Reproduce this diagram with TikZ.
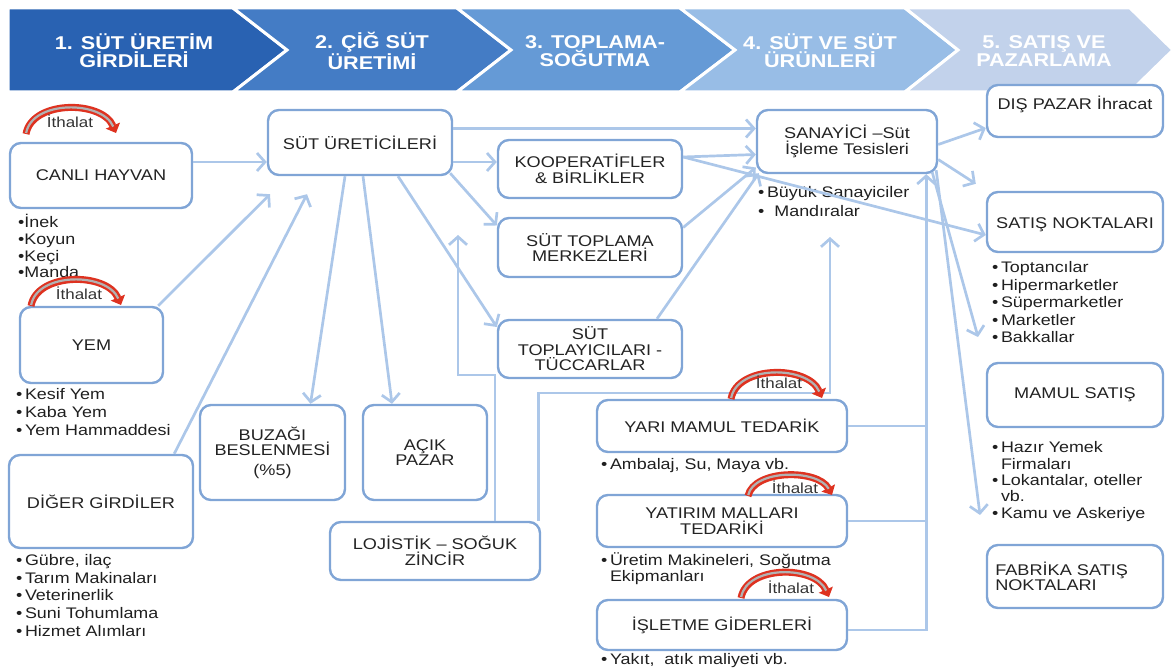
\documentclass[tikz,border=0pt]{standalone}
\usepackage{fontspec}
\setmainfont{Liberation Sans}[FakeStretch=1.17]
\usetikzlibrary{arrows.meta}

\definecolor{hdone}{RGB}{41,98,178}
\definecolor{hdtwo}{RGB}{68,124,197}
\definecolor{hdthree}{RGB}{101,154,214}
\definecolor{hdfour}{RGB}{152,189,230}
\definecolor{hdfive}{RGB}{194,210,235}
\definecolor{boxline}{RGB}{128,165,214}
\definecolor{flowline}{RGB}{172,199,233}
\definecolor{impred}{RGB}{222,50,32}
\definecolor{textgray}{RGB}{35,35,35}

\tikzset{
  box/.style={draw=boxline, line width=2.4pt, rounded corners=11pt, fill=white,
    align=center, inner sep=0pt, text=textgray, font=\fontsize{15.5}{15.5}\selectfont},
  head/.style={text=white, align=center, font=\bfseries\fontsize{18.5}{18}\selectfont},
  items/.style={anchor=base west, align=left, inner sep=0pt, text=black!88,
    font=\fontsize{15.3}{17.6}\selectfont},
  flow/.style={draw=flowline, line width=2.7pt, -{Straight Barb[length=8pt,width=18pt]}},
  link/.style={draw=flowline, line width=2.7pt},
  chev/.style={draw=white, line width=3pt},
  imp/.style={draw=impred, line width=7pt, -{Triangle[length=8pt,width=15pt]}},
  impin/.style={draw=black!30, line width=2.2pt, shorten >=7pt, shorten <=1pt},
  imptext/.style={font=\fontsize{14.5}{14}\selectfont, text=black!80, inner sep=0pt}
}

\begin{document}
\begin{tikzpicture}[x=1pt,y=-1pt]
  \useasboundingbox (0,0) rectangle (1173,668);

  % banner
  \filldraw[chev, fill=hdone] (8,8) -- (233,8) -- (287,50) -- (233,92) -- (8,92) -- cycle;
  \filldraw[chev, fill=hdtwo] (233,8) -- (457,8) -- (511,50) -- (457,92) -- (233,92) -- (287,50) -- cycle;
  \filldraw[chev, fill=hdthree] (457,8) -- (680,8) -- (735,50) -- (680,92) -- (457,92) -- (511,50) -- cycle;
  \filldraw[chev, fill=hdfour] (680,8) -- (905,8) -- (958,50) -- (905,92) -- (680,92) -- (735,50) -- cycle;
  \filldraw[chev, fill=hdfive] (905,8) -- (1130,8) -- (1173,50) -- (1130,92) -- (905,92) -- (958,50) -- cycle;
  \node[head] (h1) at (134,51) {1. SÜT ÜRETİM\\GİRDİLERİ};
  \node[head] (h2) at (372,51) {2. ÇİĞ SÜT\\ÜRETİMİ};
  \node[head] (h3) at (595,51) {3. TOPLAMA-\\SOĞUTMA};
  \node[head] (h4) at (820,51) {4. SÜT VE SÜT\\ÜRÜNLERİ};
  \node[head] (h5) at (1044,51) {5. SATIŞ VE\\PAZARLAMA};

  % inputs
  \node[box, minimum width=182pt, minimum height=65pt] (canli) at (101,175.5) {CANLI HAYVAN};
  \node[box, minimum width=143pt, minimum height=76pt] (yem) at (91.5,345) {YEM};
  \node[box, minimum width=184pt, minimum height=93pt] (diger) at (101,501.5) {DİĞER GİRDİLER};
  \node[items, font=\fontsize{15.3}{16.7}\selectfont] (canlilist) at (18,278) {•İnek\\•Koyun\\•Keçi\\•Manda};
  \node[items] (yemlist) at (16,435) {•\,Kesif Yem\\•\,Kaba Yem\\•\,Yem Hammaddesi};
  \node[items] (digerlist) at (16,636) {•\,Gübre, ilaç\\•\,Tarım Makinaları\\•\,Veterinerlik\\•\,Suni Tohumlama\\•\,Hizmet Alımları};

  % raw milk
  \node[box, minimum width=184pt, minimum height=65pt] (uretici) at (360,142.5) {SÜT ÜRETİCİLERİ};
  \node[box, minimum width=145pt, minimum height=95pt] (buzagi) at (272.5,452.5) {BUZAĞI\\BESLENMESİ\\[4pt](\%5)};
  \node[box, minimum width=124pt, minimum height=95pt] (acik) at (425,452.5) {AÇIK\\PAZAR};
  \node[box, minimum width=210pt, minimum height=58pt] (lojistik) at (435,551) {LOJİSTİK – SOĞUK\\ZİNCİR};

  % collection
  \node[box, minimum width=184pt, minimum height=58pt] (koop) at (590,169) {KOOPERATİFLER\\\& BİRLİKLER};
  \node[box, minimum width=184pt, minimum height=59pt] (merkez) at (590,247.5) {SÜT TOPLAMA\\MERKEZLERİ};
  \node[box, minimum width=184pt, minimum height=58pt] (toplayici) at (590,349) {SÜT\\TOPLAYICILARI -\\TÜCCARLAR};

  % industry
  \node[box, minimum width=180pt, minimum height=63pt] (sanayici) at (847,141.5) {SANAYİCİ –Süt\\İşleme Tesisleri};
  \node[items, font=\fontsize{15.3}{19}\selectfont] (sanlist) at (758,217) {•\,Büyük Sanayiciler\\•\ \ Mandıralar};
  \node[box, minimum width=250pt, minimum height=52pt] (yari) at (722,426) {YARI MAMUL TEDARİK};
  \node[box, minimum width=250pt, minimum height=52pt] (yatirim) at (722,521) {YATIRIM MALLARI\\TEDARİKİ};
  \node[box, minimum width=250pt, minimum height=50pt] (isletme) at (722,625) {İŞLETME GİDERLERİ};
  \node[items] (yarilist) at (601,469) {•\,Ambalaj, Su, Maya vb.};
  \node[items, font=\fontsize{15.3}{16}\selectfont] (yatlist) at (601,581) {•\,Üretim Makineleri, Soğutma\\\phantom{•\,}Ekipmanları};
  \node[items] (islist) at (601,664) {•\,Yakıt,\ \ atık maliyeti vb.};

  % sales
  \node[box, minimum width=176pt, minimum height=52pt] (dispazar) at (1075,111) {\raisebox{7pt}[\height][\depth]{DIŞ PAZAR İhracat}};
  \node[box, minimum width=176pt, minimum height=60pt] (satis) at (1075,222) {\raisebox{-3pt}[\height][\depth]{SATIŞ NOKTALARI}};
  \node[box, minimum width=176pt, minimum height=64pt] (mamul) at (1075,395) {MAMUL SATIŞ};
  \node[box, minimum width=176pt, minimum height=63pt, align=left] (fabrika) at (1075,576.5) {FABRİKA SATIŞ\\NOKTALARI\hspace*{58pt}};
  \node[items] (satislist) at (992,343) {•\,Toptancılar\\•\,Hipermarketler\\•\,Süpermarketler\\•\,Marketler\\•\,Bakkallar};
  \node[items, font=\fontsize{15.3}{16.3}\selectfont] (mamullist) at (992,518) {•\,Hazır Yemek\\\phantom{•\,}Firmaları\\•\,Lokantalar, oteller\\\phantom{•\,}vb.\\•\,Kamu ve Askeriye};

  % flows
  \draw[flow] ([yshift=13.5pt]canli.east) -- ([yshift=-19.5pt]uretici.west);
  \draw[flow] ([xshift=-6pt]yem.north east) -- ([xshift=-90pt,yshift=-18pt]uretici.south);
  \draw[flow] ([xshift=-20pt]diger.north east) -- ([xshift=-53pt,yshift=-18pt]uretici.south);
  \draw[flow] ([xshift=-15pt]uretici.south) -- ([xshift=38pt]buzagi.north);
  \draw[flow] ([xshift=3pt]uretici.south) -- ([xshift=-33pt]acik.north);
  \draw[flow] ([xshift=38pt]uretici.south) -- ([yshift=22pt]toplayici.west);
  \draw[flow] ([xshift=-3pt,yshift=3pt]uretici.south east) -- ([yshift=22pt]merkez.west);
  \draw[flow] ([yshift=-19.5pt]uretici.east) -- ([yshift=7pt]koop.west);
  \draw[flow] ([yshift=14pt]uretici.east) -- ([yshift=13pt]sanayici.west);
  \draw[flow] ([yshift=12pt]koop.east) -- ([yshift=-13pt]sanayici.west);
  \draw[flow] ([yshift=12pt]koop.east) -- ([yshift=-13pt]satis.west);
  \draw[flow] ([yshift=20pt]merkez.east) -- ([yshift=-26pt]sanayici.west);
  \draw[flow] ([xshift=67pt]toplayici.north) -- ([xshift=3pt,yshift=1pt]sanayici.south west);

  \coordinate (lojbend) at (458,375);
  \coordinate (lojtip) at (458,235);
  \draw[flow] ([xshift=60pt]lojistik.north) |- (lojbend) -- (lojtip);
  \coordinate (sanbend) at (830,393);
  \coordinate (santip) at (830,237);
  \draw[flow] ([xshift=-3pt]lojistik.north east) |- (sanbend) -- (santip);

  \coordinate (trunktop) at ([xshift=-12pt]sanayici.south east);
  \draw[flow] ([yshift=-5pt]isletme.east) -| (trunktop);
  \draw[link] (yari.east) -- (yari.east -| trunktop);
  \draw[link] (yatirim.east) -- (yatirim.east -| trunktop);

  \coordinate (bakkaltip) at (978,337);
  \coordinate (kamutip) at (980,515);
  \draw[flow] ([yshift=-3pt]sanayici.east) -- ([yshift=-17pt]dispazar.west);
  \draw[flow] ([yshift=-18pt]sanayici.east) -- ([xshift=-10pt,yshift=7pt]satis.north west);
  \draw[flow] ([xshift=-6pt,yshift=2pt]sanayici.south east) -- (bakkaltip);
  \draw[flow] ([xshift=-2pt,yshift=4pt]sanayici.south east) -- (kamutip);

  % imports
  \draw[imp] (26,134) .. controls (32,100) and (102,100) .. (116,133);
  \draw[impin] (26,134) .. controls (32,100) and (102,100) .. (116,133);
  \node[imptext] (ith1) at (70,121) {İthalat};
  \draw[imp] (31,306) .. controls (37,272) and (107,272) .. (121,305);
  \draw[impin] (31,306) .. controls (37,272) and (107,272) .. (121,305);
  \node[imptext] (ith2) at (79,293) {İthalat};
  \draw[imp] (731,399) .. controls (737,365) and (808,365) .. (822,398);
  \draw[impin] (731,399) .. controls (737,365) and (808,365) .. (822,398);
  \node[imptext] (ith3) at (779,382) {İthalat};
  \draw[imp] (748,496) .. controls (754,469) and (818,469) .. (832,495);
  \draw[impin] (748,496) .. controls (754,469) and (818,469) .. (832,495);
  \node[imptext] (ith4) at (795,487) {İthalat};
  \draw[imp] (741,598) .. controls (747,565) and (815,565) .. (829,597);
  \draw[impin] (741,598) .. controls (747,565) and (815,565) .. (829,597);
  \node[imptext] (ith5) at (791,587) {İthalat};
\end{tikzpicture}
\end{document}
